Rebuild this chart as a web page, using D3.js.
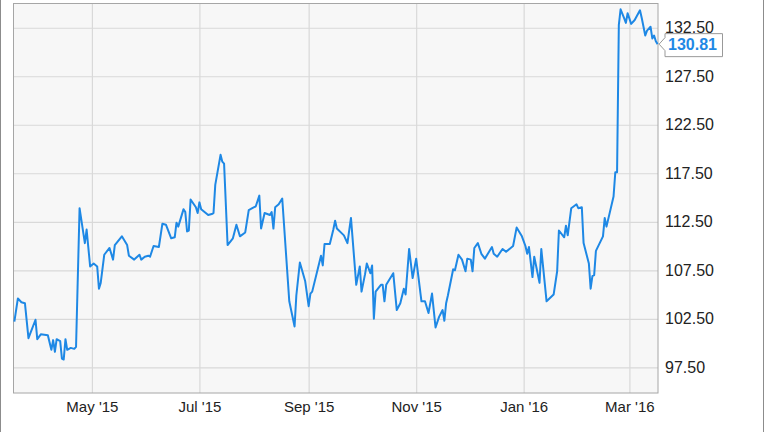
<!DOCTYPE html>
<html>
<head>
<meta charset="utf-8">
<script src="https://cdn.jsdelivr.net/npm/d3@7"></script>
<style>
  html, body { margin: 0; padding: 0; background: #ffffff; }
  svg { display: block; }
  text { font-family: "Liberation Sans", Arial, sans-serif; }
</style>
</head>
<body>
<svg id="chart" width="764" height="432"></svg>
<script>
// ---- data ----
const dates = [
  "2015-03-18","2015-03-20","2015-03-22","2015-03-24","2015-03-26","2015-03-30","2015-03-31","2015-04-02","2015-04-06","2015-04-08",
  "2015-04-09","2015-04-10","2015-04-11","2015-04-13","2015-04-14","2015-04-15","2015-04-16","2015-04-17","2015-04-19","2015-04-21",
  "2015-04-22","2015-04-24","2015-04-27","2015-04-28","2015-04-30","2015-05-02","2015-05-04","2015-05-05","2015-05-06","2015-05-08",
  "2015-05-11","2015-05-13","2015-05-14","2015-05-18","2015-05-21","2015-05-22","2015-05-25","2015-05-28","2015-05-29","2015-05-31",
  "2015-06-02","2015-06-03","2015-06-05","2015-06-08","2015-06-10","2015-06-12","2015-06-15","2015-06-17","2015-06-18","2015-06-19",
  "2015-06-22","2015-06-23","2015-06-24","2015-06-25","2015-06-26","2015-06-29","2015-06-30","2015-07-01","2015-07-02","2015-07-06",
  "2015-07-08","2015-07-09","2015-07-10","2015-07-13","2015-07-14","2015-07-15","2015-07-17","2015-07-20","2015-07-22","2015-07-24",
  "2015-07-27","2015-07-29","2015-07-31","2015-08-02","2015-08-04","2015-08-05","2015-08-07","2015-08-10","2015-08-11","2015-08-12",
  "2015-08-13","2015-08-15","2015-08-17","2015-08-21","2015-08-24","2015-08-25","2015-08-27","2015-08-30","2015-09-01","2015-09-02",
  "2015-09-03","2015-09-08","2015-09-09","2015-09-10","2015-09-13","2015-09-15","2015-09-16","2015-09-17","2015-09-21","2015-09-23",
  "2015-09-25","2015-09-28","2015-09-30","2015-10-01","2015-10-03","2015-10-04","2015-10-06","2015-10-07","2015-10-08","2015-10-09",
  "2015-10-12","2015-10-13","2015-10-14","2015-10-15","2015-10-19","2015-10-21","2015-10-23","2015-10-25","2015-10-26","2015-10-28",
  "2015-10-30","2015-11-01","2015-11-04","2015-11-06","2015-11-08","2015-11-10","2015-11-12","2015-11-14","2015-11-16","2015-11-17",
  "2015-11-18","2015-11-19","2015-11-22","2015-11-23","2015-11-25","2015-11-27","2015-11-29","2015-11-30","2015-12-02","2015-12-03",
  "2015-12-04","2015-12-06","2015-12-08","2015-12-10","2015-12-14","2015-12-15","2015-12-17","2015-12-20","2015-12-22","2015-12-26",
  "2015-12-28","2015-12-31","2016-01-02","2016-01-03","2016-01-04","2016-01-06","2016-01-07","2016-01-10","2016-01-11","2016-01-12",
  "2016-01-14","2016-01-18","2016-01-20","2016-01-21","2016-01-24","2016-01-25","2016-01-26","2016-01-28","2016-01-31","2016-02-01",
  "2016-02-03","2016-02-04","2016-02-07","2016-02-08","2016-02-09","2016-02-10","2016-02-11","2016-02-15","2016-02-16","2016-02-17",
  "2016-02-21","2016-02-22","2016-02-23","2016-02-24","2016-02-25","2016-02-27","2016-02-28","2016-02-29","2016-03-02","2016-03-04",
  "2016-03-07","2016-03-08","2016-03-10","2016-03-11","2016-03-13","2016-03-14","2016-03-15","2016-03-16","2016-03-17"
];
const prices = [
  102.2,104.6,104.2,104.1,100.5,102.4,100.4,100.9,100.8,99.3,
  100.3,99.1,100.4,100.2,98.4,98.3,100.4,99.3,99.5,99.4,
  99.6,113.9,110.3,111.7,107.9,108.2,107.9,105.6,106.2,109.1,
  109.8,108.6,110.1,111.0,110.1,109.0,108.6,109.1,108.6,108.9,
  109.0,108.9,110.0,109.9,112.3,112.2,110.8,110.9,112.4,112.0,
  113.8,113.5,111.5,111.6,114.8,114.0,113.4,114.5,113.8,113.2,
  113.3,113.4,116.3,119.4,118.7,118.5,110.1,110.8,112.2,111.0,
  111.4,113.7,113.9,114.1,115.2,111.8,113.4,113.2,113.5,111.8,
  114.0,114.3,114.9,104.3,101.7,104.9,108.3,106.4,103.8,105.1,
  105.3,109.0,108.0,110.2,110.2,111.7,112.6,111.8,111.1,110.3,
  112.9,106.0,107.9,105.3,107.1,108.2,107.2,108.0,102.5,105.3,
  106.0,106.0,104.3,106.0,107.2,103.4,104.1,105.6,105.0,109.7,
  106.7,108.7,104.3,104.3,103.1,105.1,101.6,102.7,103.4,102.3,
  104.1,104.9,107.6,107.5,109.1,108.6,107.4,108.7,108.6,107.4,
  109.8,110.3,109.2,108.7,109.9,109.2,108.9,109.7,109.4,110.0,
  111.9,111.0,110.0,109.2,109.9,106.8,108.9,106.2,109.7,107.9,
  104.3,105.0,107.4,111.6,110.9,112.1,111.1,113.9,114.3,113.9,
  114.0,110.3,108.2,105.6,106.9,107.0,109.5,111.0,112.9,112.0,
  115.1,117.6,117.6,132.8,134.4,133.5,133.0,134.0,132.9,133.3,
  134.3,133.5,131.7,132.2,132.6,131.4,131.7,131.1,130.81
];
const yTickValues = [97.5, 102.5, 107.5, 112.5, 117.5, 122.5, 127.5, 132.5];
const xTickDates = ["2015-05-01","2015-07-01","2015-09-01","2015-11-01","2016-01-01","2016-03-01"];
const xTickLabels = ["May '15","Jul '15","Sep '15","Nov '15","Jan '16","Mar '16"];

(function draw() {
  const parse = d3.timeParse("%Y-%m-%d");
  const plot = { left: 13.5, right: 658, top: 3.5, bottom: 393 };
  const lineColor = "#1e88e5";
  const fontFam = "'Liberation Sans', Arial, sans-serif";

  const data = dates.map((d, i) => ({ date: parse(d), value: prices[i] }));

  const x = d3.scaleTime()
    .domain([parse("2015-03-17"), parse("2016-03-17")])
    .range([12.6, 657.6]);
  const y = d3.scaleLinear()
    .domain([94.85, 135.0])
    .range([plot.bottom, plot.top]);

  const svg = d3.select("#chart");

  // outer side borders of the image
  svg.append("line").attr("x1", 0.5).attr("x2", 0.5).attr("y1", 0).attr("y2", 432)
    .attr("stroke", "#8c8c8c").attr("stroke-width", 1);
  svg.append("line").attr("x1", 763.5).attr("x2", 763.5).attr("y1", 0).attr("y2", 432)
    .attr("stroke", "#8c8c8c").attr("stroke-width", 1);

  // plot background
  svg.append("rect")
    .attr("x", plot.left).attr("y", plot.top)
    .attr("width", plot.right - plot.left).attr("height", plot.bottom - plot.top)
    .attr("fill", "#f7f7f7");

  // grid lines via axes
  const xGrid = svg.append("g")
    .attr("transform", `translate(0,${plot.bottom})`)
    .call(d3.axisBottom(x).tickValues(xTickDates.map(parse))
      .tickSize(-(plot.bottom - plot.top)).tickFormat(""));
  xGrid.select(".domain").remove();
  xGrid.selectAll(".tick line").attr("stroke", "#d9d9d9").attr("stroke-width", 1.2);

  const yGrid = svg.append("g")
    .attr("transform", `translate(${plot.right},0)`)
    .call(d3.axisRight(y).tickValues(yTickValues)
      .tickSize(-(plot.right - plot.left)).tickFormat(""));
  yGrid.select(".domain").remove();
  yGrid.selectAll(".tick line").attr("stroke", "#d9d9d9").attr("stroke-width", 1.2);

  // plot frame
  svg.append("rect")
    .attr("x", plot.left).attr("y", plot.top)
    .attr("width", plot.right - plot.left).attr("height", plot.bottom - plot.top)
    .attr("fill", "none").attr("stroke", "#a6a6a6").attr("stroke-width", 1);

  // price line
  const line = d3.line().x(d => x(d.date)).y(d => y(d.value));
  svg.append("path")
    .datum(data)
    .attr("d", line)
    .attr("fill", "none")
    .attr("stroke", lineColor)
    .attr("stroke-width", 2)
    .attr("stroke-linejoin", "round");

  // x-axis labels
  const xAxis = svg.append("g")
    .attr("transform", `translate(0,${plot.bottom})`)
    .call(d3.axisBottom(x).tickValues(xTickDates.map(parse))
      .tickSize(0).tickPadding(8)
      .tickFormat((d, i) => xTickLabels[i]));
  xAxis.select(".domain").remove();
  xAxis.selectAll("text")
    .attr("font-family", fontFam)
    .attr("font-size", 15).attr("fill", "#222");

  // y-axis labels
  const yAxis = svg.append("g")
    .attr("transform", `translate(${plot.right},0)`)
    .call(d3.axisRight(y).tickValues(yTickValues)
      .tickSize(0).tickPadding(7)
      .tickFormat(d3.format(".2f")));
  yAxis.select(".domain").remove();
  yAxis.selectAll("text")
    .attr("font-family", fontFam)
    .attr("font-size", 16).attr("fill", "#222");

  // last value callout
  const last = data[data.length - 1];
  const ly = y(last.value);
  const bx = 665, bw = 57.5, boxTop = ly - 10.5, boxBot = ly + 12.5;
  svg.append("path")
    .attr("d", `M${bx},${boxTop} H${bx + bw} V${boxBot} H${bx} V${ly + 6.5} L${x(last.date) + 1.5},${ly} L${bx},${ly - 6.5} Z`)
    .attr("fill", "#ffffff")
    .attr("stroke", "#999999")
    .attr("stroke-width", 1);
  svg.append("text")
    .attr("x", bx + 3).attr("y", ly + 6)
    .attr("font-family", fontFam)
    .attr("font-size", 16).attr("font-weight", "bold")
    .attr("fill", lineColor)
    .text(d3.format(".2f")(last.value));
})();
</script>
</body>
</html>
